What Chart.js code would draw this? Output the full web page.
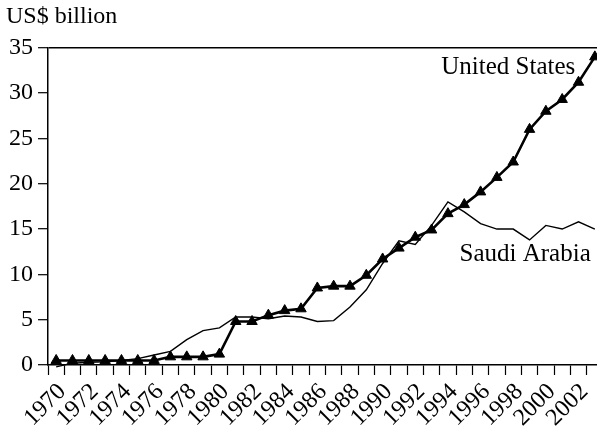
<!DOCTYPE html>
<html>
<head>
<meta charset="utf-8">
<script src="https://cdn.jsdelivr.net/npm/chart.js@4"></script>
<style>
  html, body { margin: 0; padding: 0; background: #fff; overflow: hidden; }
  #wrap { width: 610px; height: 431px; position: relative; }
</style>
</head>
<body>
<div id="wrap"><canvas id="oil"></canvas></div>
<script>
  const years = ['1970','1971','1972','1973','1974','1975','1976','1977','1978','1979',
    '1980','1981','1982','1983','1984','1985','1986','1987','1988','1989',
    '1990','1991','1992','1993','1994','1995','1996','1997','1998','1999',
    '2000','2001','2002','2003'];
  const unitedStates = [0.5, 0.5, 0.5, 0.5, 0.5, 0.5, 0.5, 0.9, 0.9, 0.9,
    1.2, 4.8, 4.8, 5.5, 6.0, 6.2, 8.5, 8.7, 8.7, 9.9,
    11.7, 12.9, 14.1, 14.9, 16.7, 17.7, 19.1, 20.7, 22.4, 26.0,
    28.0, 29.3, 31.2, 34.0];
  const saudiArabia = [-0.2, 0.2, 0.3, 0.35, 0.5, 0.7, 1.1, 1.5, 2.8, 3.8,
    4.1, 5.3, 5.3, 5.1, 5.4, 5.3, 4.8, 4.9, 6.4, 8.3,
    11.2, 13.7, 13.3, 15.4, 18.0, 16.9, 15.6, 15.0, 15.0, 13.8,
    15.4, 15.0, 15.8, 15.0];
  const yTicks = [0, 5, 10, 15, 20, 25, 30, 35];
  const notes = [
    { text: 'United States', year: '2002', nudge: -0.2, value: 32.8 },
    { text: 'Saudi Arabia', year: '2003', nudge: -0.25, value: 12.2 }
  ];

  const serif = "'Liberation Serif', 'Times New Roman', serif";

  // line end labels, placed through the scales
  const seriesNotes = {
    id: 'seriesNotes',
    afterDatasetsDraw(chart) {
      const c = chart.ctx;
      c.save();
      c.font = '25px ' + serif;
      c.fillStyle = '#000';
      c.textAlign = 'right';
      c.textBaseline = 'middle';
      notes.forEach(n => {
        c.fillText(n.text, chart.scales.x.getPixelForValue(years.indexOf(n.year) + n.nudge),
          chart.scales.y.getPixelForValue(n.value));
      });
      c.restore();
    }
  };

  new Chart(document.getElementById('oil'), {
    type: 'line',
    data: {
      labels: years,
      datasets: [{
        label: 'United States',
        data: unitedStates,
        borderColor: '#000',
        backgroundColor: '#000',
        borderWidth: 2.6,
        tension: 0,
        pointStyle: 'triangle',
        pointRadius: 6,
        pointBackgroundColor: '#000',
        pointBorderColor: '#000',
        pointBorderWidth: 1,
        clip: 8
      }, {
        label: 'Saudi Arabia',
        data: saudiArabia,
        borderColor: '#000',
        borderWidth: 1.4,
        tension: 0,
        pointRadius: 0,
        clip: 8
      }]
    },
    options: {
      responsive: true,
      maintainAspectRatio: false,
      animation: false,
      layout: { padding: { left: 6, right: 0, top: 0, bottom: 0 } },
      plugins: {
        legend: { display: false },
        tooltip: { enabled: false },
        title: {
          display: true,
          text: 'US$ billion',
          align: 'start',
          color: '#000',
          font: { family: serif, size: 24, weight: 'normal' },
          padding: { top: 2, bottom: 17 }
        }
      },
      scales: {
        x: {
          offset: true,
          grid: { offset: true, color: 'rgba(0,0,0,0)', tickColor: '#000', tickLength: 10, tickWidth: 1.2 },
          border: { color: '#000', width: 1.5 },
          afterFit: axis => { axis.height = 66; axis.paddingRight = 0; },
          ticks: {
            autoSkip: false,
            minRotation: 45,
            maxRotation: 45,
            padding: 3,
            labelOffset: 6,
            color: '#000',
            font: { family: serif, size: 24 },
            callback: (v, i) => i % 2 === 0 ? years[i] : ''
          }
        },
        y: {
          min: 0,
          max: 35,
          grid: {
            color: ctx => ctx.tick && ctx.tick.value === 35 ? '#000' : 'rgba(0,0,0,0)',
            lineWidth: 1.4,
            tickColor: '#000',
            tickLength: 10,
            tickWidth: 1.2
          },
          border: { color: '#000', width: 1.5 },
          afterFit: axis => { axis.width = 42; },
          afterBuildTicks: axis => { axis.ticks = yTicks.map(v => ({ value: v })); },
          ticks: {
            padding: 5,
            color: '#000',
            font: { family: serif, size: 24 }
          }
        }
      }
    },
    plugins: [seriesNotes]
  });
</script>
</body>
</html>
